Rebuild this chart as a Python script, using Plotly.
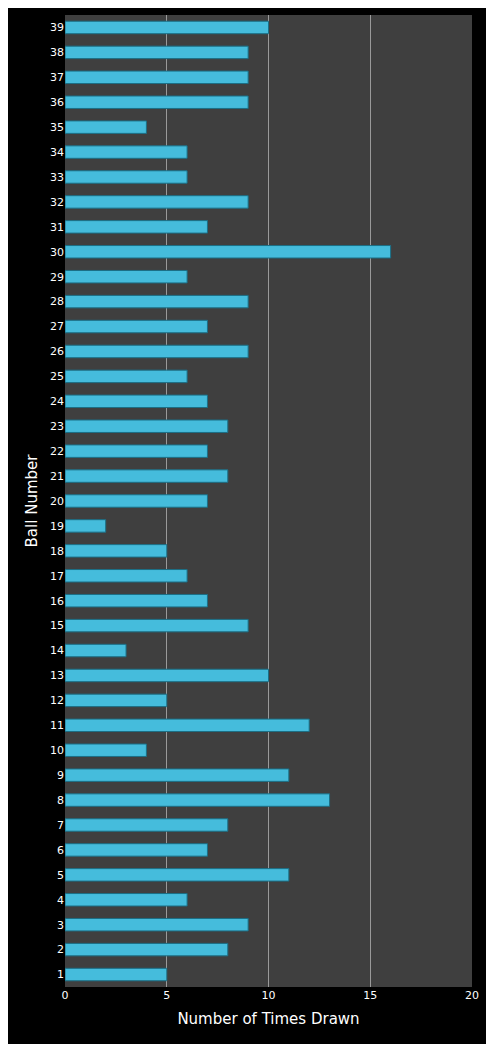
import plotly.graph_objects as go

balls = list(range(1, 40))
counts = [5, 8, 9, 6, 11, 7, 8, 13, 11, 4, 12, 5, 10, 3, 9, 7, 6, 5, 2, 7,
          8, 7, 8, 7, 6, 9, 7, 9, 6, 16, 7, 9, 6, 6, 4, 9, 9, 9, 10]

fig = go.Figure(go.Bar(
    x=counts, y=balls, orientation="h",
    marker=dict(color="#45bcdc", line=dict(color="#1b6f86", width=1)),
    width=0.5,
))
fig.update_layout(
    width=478, height=1036,
    margin=dict(l=57, r=12, t=7, b=57),
    paper_bgcolor="black", plot_bgcolor="#3f3f3f",
    font=dict(family="DejaVu Sans", color="white", size=11),
    showlegend=False,
    xaxis=dict(range=[0, 20], tickvals=[0, 5, 10, 15, 20], showgrid=True,
               gridcolor="#9a9a9a", gridwidth=1, zeroline=False,
               title=dict(text="Number of Times Drawn", font=dict(size=15), standoff=12),
               ticks="", showline=False),
    yaxis=dict(range=[0.5, 39.5], tickvals=balls, showgrid=False, zeroline=False,
               title=dict(text="Ball Number", font=dict(size=15), standoff=8),
               ticks="", showline=False),
)
fig.write_html("out.html")
